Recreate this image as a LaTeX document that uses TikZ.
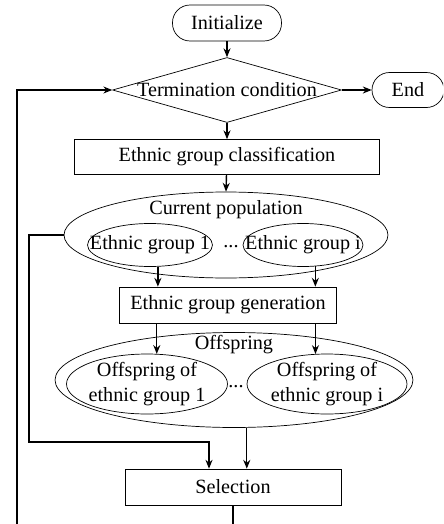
\documentclass[tikz,border=0pt]{standalone}
\usepackage{fontspec}
\setmainfont{Liberation Serif}
\usetikzlibrary{shapes,arrows.meta,calc,positioning}

\begin{document}
\begin{tikzpicture}[x=0.02cm,y=-0.02cm,
    font=\fontsize{11.5}{14}\selectfont,
    terminal/.style={draw,rectangle,rounded corners=0.35cm,minimum height=0.72cm,inner sep=0pt},
    decision/.style={draw,diamond,minimum width=4.58cm,minimum height=1.3cm,inner sep=0pt},
    process/.style={draw,rectangle,minimum height=0.72cm,inner sep=0pt},
    group/.style={draw,ellipse,inner sep=0pt},
    arr/.style={-{Stealth[length=5pt,width=4pt]},line width=0.8pt}]
    \useasboundingbox (0,0) rectangle (443,524);
    \clip (0,0) rectangle (443,524);

    \node[terminal,minimum width=2.18cm] (init) at (227,23) {Initialize};
    \node[decision] (cond) at (227,90) {};
    \node (condtxt) at (cond) {Termination condition};
    \node[terminal,minimum width=1.44cm,minimum height=0.7cm] (end) at (408,90) {End};
    \node[process,minimum width=6.1cm,minimum height=0.7cm] (cls) at (227,157) {Ethnic group classification};

    \node[group,minimum width=6.48cm,minimum height=1.72cm] (cur) at (226,235) {};
    \node (curtxt) at (226,210) {Current population};
    \node[group,minimum width=2.5cm,minimum height=0.86cm] (eg1) at (150,245) {};
    \node (eg1txt) at (eg1) {Ethnic group 1};
    \node[group,minimum width=2.4cm,minimum height=0.86cm] (egi) at (303,245) {};
    \node (egitxt) at (egi) {Ethnic group i};
    \node (dots1) at (231,247) {...};

    \node[process,minimum width=4.34cm] (gen) at (228,305) {Ethnic group generation};

    \node[group,minimum width=7.16cm,minimum height=1.9cm] (off) at (234,380) {};
    \node (offtxt) at (234,345) {Offspring};
    \node[group,minimum width=3.22cm,minimum height=1.2cm] (of1) at (147,384) {};
    \node[align=center] (of1txt) at (of1) {Offspring of\\ethnic group 1};
    \node[group,minimum width=3.2cm,minimum height=1.2cm] (ofi) at (327,384) {};
    \node[align=center] (ofitxt) at (ofi) {Offspring of\\ethnic group i};
    \node (dots2) at (236,387) {...};

    \node[process,minimum width=4.32cm] (sel) at (233,487) {Selection};

    \coordinate (fb) at (29,442);
    \coordinate (lp) at (17,545);

    \draw[arr] (init) -- (cond);
    \draw[arr] (cond) -- (end);
    \draw[arr] (cond) -- (cls);
    \draw[arr] (cls) -- (cur.north);
    \draw[arr] (eg1.-70) -- (eg1.-70 |- gen.north);
    \draw[arr] (egi.-60) -- (egi.-60 |- gen.north);
    \draw[arr] (of1.72 |- gen.south) -- (of1.72);
    \draw[arr] (ofi.111 |- gen.south) -- (ofi.111);
    \draw[arr] (off.-75) -- (off.-75 |- sel.north);
    \draw[arr] (cur.west) -| (fb) -| ($(sel.north)+(-24,0)$);
    \draw[arr] (sel.south) |- (lp) |- (cond.west);
\end{tikzpicture}
\end{document}
